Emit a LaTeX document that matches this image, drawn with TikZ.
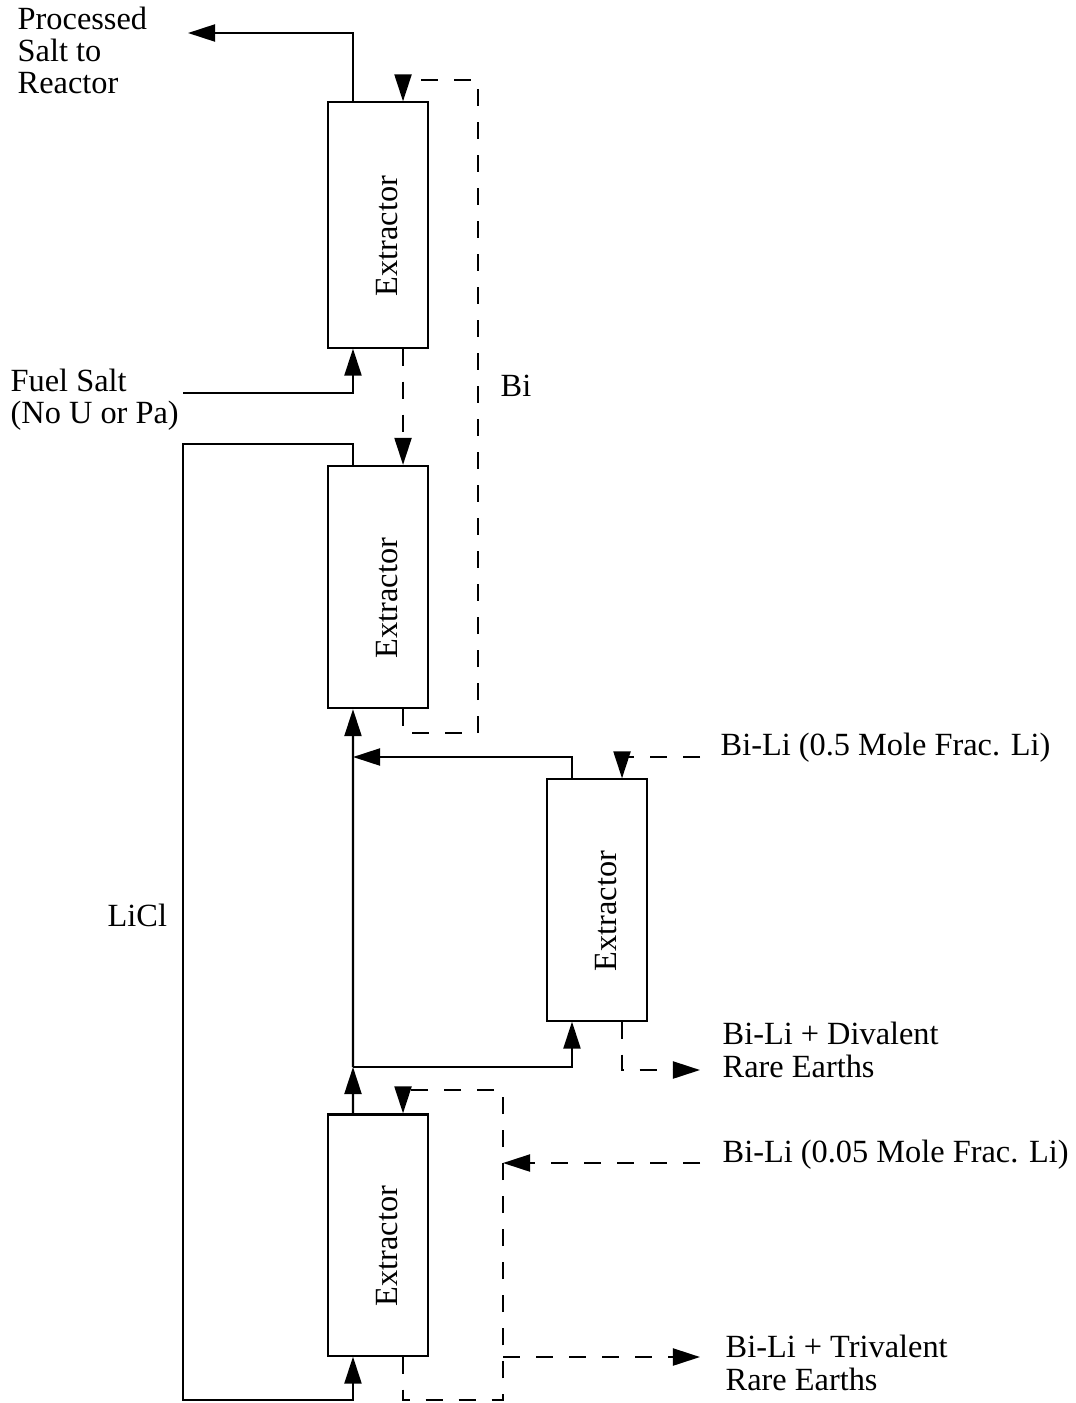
\documentclass[tikz,border=0pt]{standalone}
\usepackage{fontspec}
\setmainfont{Liberation Serif}
\usetikzlibrary{arrows.meta}

\newcommand{\extlabel}{\hspace*{0.18cm}\rotatebox{90}{Extractor\hspace*{0.22cm}}}

\begin{document}
\begin{tikzpicture}[x=0.01cm, y=-0.01cm,
  lbl/.style={anchor=west, inner sep=0pt, align=left, font=\fontsize{9.2}{9.2}\selectfont},
  box/.style={draw, line width=0.6pt, minimum width=1cm, inner sep=0pt, font=\fontsize{9.2}{9.2}\selectfont},
  flow/.style={line width=0.6pt, -{Triangle[length=0.27cm, width=0.17cm]}},
  dflow/.style={flow, dash pattern=on 0.17cm off 0.16cm}]
  \useasboundingbox (0,0) rectangle (1076,1403);

  % extractors
  \node[box, minimum height=2.45cm] (ex1) at (378,225) {\extlabel};
  \node[box, minimum height=2.42cm] (ex2) at (378,587) {\extlabel};
  \node[box, minimum height=2.41cm] (ex3) at (597,900) {\extlabel};
  \node[box, minimum height=2.41cm] (ex4) at (378,1235) {\extlabel};

  % labels
  \node[lbl, anchor=north west] (prodlbl) at (17,6) {Processed\\Salt to\\Reactor};
  \node[lbl] (fuellbl) at (10,400) {Fuel Salt\\(No U or Pa)};
  \node[lbl] (bilbl) at (500,386) {Bi};
  \node[lbl] (liclbl) at (107,915) {LiCl};
  \node[lbl] (in05lbl) at (720,748) {Bi-Li (0.5 Mole Frac. Li)};
  \node[lbl] (divlbl) at (722,1050) {Bi-Li + Divalent\\Rare Earths};
  \node[lbl] (in005lbl) at (722,1155) {Bi-Li (0.05 Mole Frac. Li)};
  \node[lbl] (trilbl) at (725,1363) {Bi-Li + Trivalent\\Rare Earths};

  \coordinate (prod) at (188,33);
  \coordinate (fuelin) at (183,393);
  \coordinate (j1) at (353,1067);
  \coordinate (j2) at (353,757);
  \coordinate (in05) at (700,757);
  \coordinate (out2) at (700,1070);
  \coordinate (in005) at (700,1163);
  \coordinate (out3) at (700,1357);
  \coordinate (loop4) at (503,1357);
  \coordinate (feed4) at (503,1163);

  % salt
  \draw[flow] ([xshift=-0.25cm]ex1.north) |- (prod);
  \draw[flow] (fuelin) -| ([xshift=-0.25cm]ex1.south);
  \draw[flow] ([xshift=-0.25cm]ex2.north) -- ++(0,-21) -| (183,1400)
              -| ([xshift=-0.25cm]ex4.south);
  \draw[flow] ([xshift=-0.25cm]ex4.north) -- (j1);
  \draw[flow] (j1) -- ([xshift=-0.25cm]ex2.south);
  \draw[flow] (j1) -| ([xshift=-0.25cm]ex3.south);
  \draw[flow] ([xshift=-0.25cm]ex3.north) |- (j2);

  % bismuth
  \draw[dflow] ([xshift=0.25cm]ex2.south) -- ++(0,24) -| (478,80)
               -| ([xshift=0.25cm]ex1.north);
  \draw[dflow] ([xshift=0.25cm]ex1.south) -- ([xshift=0.25cm]ex2.north);
  \draw[dflow] (in05) -| ([xshift=0.25cm]ex3.north);
  \draw[dflow] ([xshift=0.25cm]ex3.south) |- (out2);
  \draw[dflow] ([xshift=0.25cm]ex4.south) |- (503,1400) -- (503,1090)
               -| ([xshift=0.25cm]ex4.north);
  \draw[dflow] (in005) -- (feed4);
  \draw[dflow] (loop4) -- (out3);
\end{tikzpicture}
\end{document}
